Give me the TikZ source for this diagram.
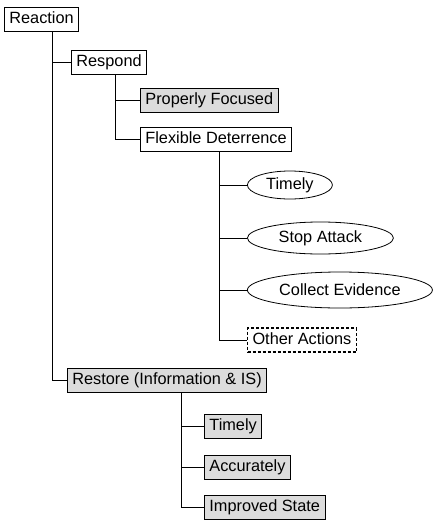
\documentclass[tikz,border=0pt]{standalone}
\usepackage{fontspec}
\setmainfont{Liberation Sans}
\usepackage{tikz}
\usetikzlibrary{
  shapes.geometric,%
  calc,%
  positioning
}
\tikzset{font=\fontsize{16.3}{19}\selectfont}
\definecolor{boxgray}{RGB}{220,220,220}
\tikzset{
  item/.style={draw, line width=0.8pt, anchor=west, inner xsep=5pt,
    minimum height=24pt, text height=11.5pt, text depth=3pt},
  shaded/.style={item, fill=boxgray},
  goal/.style={draw, ellipse, line width=0.8pt, anchor=west, inner sep=0pt},
  other/.style={item, dashed, dash pattern=on 3pt off 2pt, line width=1.1pt},
  link/.style={line width=0.9pt}
}

\begin{document}
\begin{tikzpicture}[x=1pt, y=-1pt]
  \useasboundingbox (0,0) rectangle (433,525);
  % main tree
  \node[item] (reaction) at (4, 19.5) {Reaction};
  \node[item] (respond) at (71, 62) {Respond};
  \node[shaded] (focused) at (140, 100.5) {Properly Focused};
  \node[item] (flexdet) at (140, 139.5) {Flexible Deterrence};
  % deterrence goals
  \node[goal, minimum width=85pt, minimum height=28pt] (timely) at (247, 185) {Timely};
  \node[goal, minimum width=146pt, minimum height=32pt] (stop) at (247, 238) {Stop Attack};
  \node[goal, minimum width=185pt, minimum height=36pt] (collect) at (247, 290) {Collect Evidence};
  \node[other] (actions) at (247, 340) {Other Actions};
  % restore branch
  \node[shaded] (restore) at (67, 380) {Restore (Information \& IS)};
  \node[shaded] (rtimely) at (204, 426) {Timely};
  \node[shaded] (accurate) at (204, 467) {Accurately};
  \node[shaded] (improved) at (204, 507.5) {Improved State};

  \draw[link] ([xshift=48pt]reaction.south west) |- (respond.west);
  \draw[link] ([xshift=48pt]reaction.south west) |- (restore.west);
  \draw[link] ([xshift=44pt]respond.south west) |- (focused.west);
  \draw[link] ([xshift=44pt]respond.south west) |- (flexdet.west);
  \foreach \n in {timely, stop, collect, actions}
    \draw[link] ([xshift=79pt]flexdet.south west) |- (\n.west);
  \foreach \n in {rtimely, accurate, improved}
    \draw[link] ([xshift=114pt]restore.south west) |- (\n.west);
\end{tikzpicture}
\end{document}
